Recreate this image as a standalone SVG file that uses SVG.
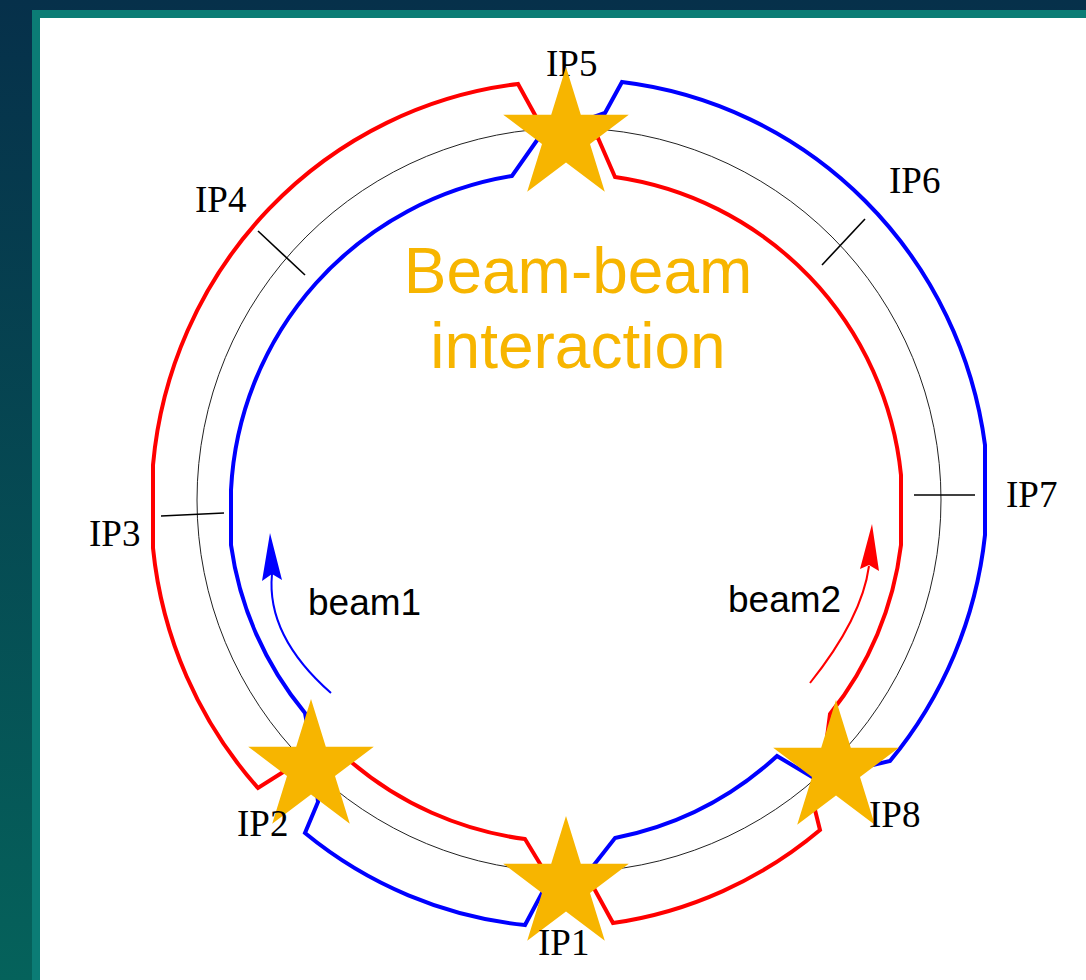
<svg xmlns="http://www.w3.org/2000/svg" width="1086" height="980" viewBox="0 0 1086 980">
<defs>
<linearGradient id="bg" x1="0" y1="0" x2="0" y2="1">
<stop offset="0" stop-color="#06304a"/>
<stop offset="1" stop-color="#05625b"/>
</linearGradient>
<path id="star" d="M0,-69 L14.8,-21.3 L62.8,-21.3 L24,8.1 L38.8,55.8 L0,26.4 L-38.8,55.8 L-24,8.1 L-62.8,-21.3 L-14.8,-21.3 Z"/>
<style>
.ring{fill:none;stroke-width:4;stroke-linejoin:miter}
.red{stroke:#ff0000}
.blue{stroke:#0000ff}
.ip{font-family:"Liberation Serif","Times New Roman",serif;font-size:37px;fill:#000}
.beam{font-family:"Liberation Sans",Arial,sans-serif;font-size:37px;fill:#000}
.title{font-family:"Liberation Sans",Arial,sans-serif;font-size:64px;fill:#f7b500;text-anchor:middle}
.star{fill:#f7b500}
.tick{stroke:#000;stroke-width:1.6}
.arrowline{fill:none;stroke-width:2}
</style>
</defs>
<rect x="0" y="0" width="1086" height="980" fill="url(#bg)"/>
<rect x="32" y="10" width="1054" height="970" fill="#0b7c75"/>
<rect x="40" y="18" width="1046" height="962" fill="#ffffff"/>

<circle cx="569" cy="500" r="372" fill="none" stroke="#222" stroke-width="1"/>

<g id="connectors">
<path class="ring red" d="M518,84 A416,422 0 0 0 153,465 L153,548 A416,422 0 0 0 258,788 L288,769 L350,761 A335,335 0 0 0 525,839 L545,872 L590,881 L613,923 A416,422 0 0 0 820,830 L815,810 L826,745 L830,714 A335,335 0 0 0 901,545 L901,475 A335,335 0 0 0 615,177 L598,138 L540,124 Z"/>
<path class="ring blue" d="M512,176 A335,335 0 0 0 231,490 L231,545 A335,335 0 0 0 305,713 L314,760 L318,802 L305,833 A416,422 0 0 0 525,925 L542,893 L590,870 L615,838 A335,335 0 0 0 777,756 L812,777 L860,768 L890,761 A416,422 0 0 0 985,535 L985,445 A416,422 0 0 0 622,82 L605,113 L540,136 Z"/>
<path class="arrowline blue" d="M331,693 Q266,636 272,574"/>
<polygon points="270,533 282,580 272,574 262,581" fill="#0000ff"/>
<path class="arrowline red" d="M810,683 Q862,618 869,566"/>
<polygon points="872,524 879,571 869,565 860,569" fill="#ff0000"/>
</g>

<g id="ip3"><line class="tick" x1="161" y1="516" x2="224" y2="513"/><text class="ip" x="89" y="546">IP3</text></g>
<g id="ip7"><line class="tick" x1="914" y1="495" x2="975" y2="495"/><text class="ip" x="1006" y="507">IP7</text></g>
<g id="ip4"><line class="tick" x1="258" y1="231" x2="305" y2="275"/><text class="ip" x="195" y="212">IP4</text></g>
<g id="ip6"><line class="tick" x1="865" y1="219" x2="822" y2="265"/><text class="ip" x="889" y="193">IP6</text></g>

<g id="ip5"><text class="ip" x="546" y="76">IP5</text><use href="#star" class="star" transform="translate(566,136)"/></g>
<g id="ip2"><use href="#star" class="star" transform="translate(311,768)"/><text class="ip" x="237" y="836">IP2</text></g>
<g id="ip8"><use href="#star" class="star" transform="translate(836,769)"/><text class="ip" x="869" y="827">IP8</text></g>
<g id="ip1"><use href="#star" class="star" transform="translate(566,885)"/><text class="ip" x="538" y="955">IP1</text></g>

<g id="labels">
<text class="title" x="578" y="293">Beam-beam</text>
<text class="title" x="578" y="368">interaction</text>
<text class="beam" x="308" y="615">beam1</text>
<text class="beam" x="728" y="612">beam2</text>
</g>
</svg>
